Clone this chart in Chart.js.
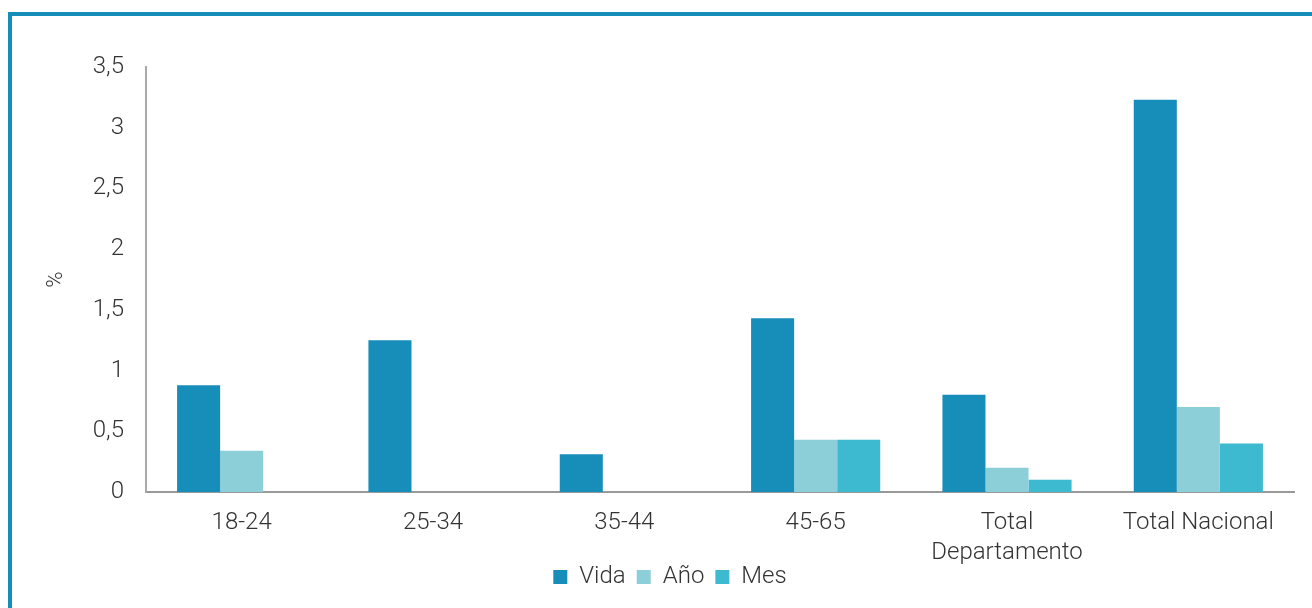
<!DOCTYPE html>
<html><head><meta charset="utf-8">
<script src="https://cdn.jsdelivr.net/npm/chart.js@4.4.1/dist/chart.umd.min.js"></script>
<style>
html,body{margin:0;padding:0;background:#fff;width:1312px;height:608px;overflow:hidden}
#frame{position:absolute;left:8px;top:12px;width:1304px;height:596px;border-top:4px solid #178dba;border-left:4px solid #178dba;box-sizing:border-box}
#wrap{position:absolute;left:12px;top:16px;width:1300px;height:592px}
</style></head>
<body>
<div id="frame"></div>
<div id="wrap"><canvas id="c" width="1300" height="592"></canvas></div>
<script>
const categories = ["18-24","25-34","35-44","45-65",["Total","Departamento"],"Total Nacional"];
const vida = [0.88,1.25,0.31,1.43,0.80,3.23];
const anio = [0.34,null,null,0.43,0.20,0.70];
const mes  = [null,null,null,0.43,0.10,0.40];
const yTicks = [0,0.5,1,1.5,2,2.5,3,3.5];
const font = {family:'Roboto', size:24, weight:'300', lineHeight:1.25};
const textColor = '#333';
const shiftLegend = {
  id:'shiftLegend',
  afterLayout(chart){ const l = chart.legend; if (l) { l.top -= 14; l.bottom -= 14; l.left += 17; l.right += 17; } }
};
new Chart(document.getElementById('c'),{
  type:'bar',
  data:{labels:categories,datasets:[
    {label:'Vida',data:vida,backgroundColor:'#178dba',categoryPercentage:0.675,barPercentage:1},
    {label:'Año',data:anio,backgroundColor:'#8ccfd8',categoryPercentage:0.675,barPercentage:1},
    {label:'Mes',data:mes,backgroundColor:'#3db9d0',categoryPercentage:0.675,barPercentage:1}
  ]},
  plugins:[shiftLegend],
  options:{
    responsive:false,animation:false,
    layout:{padding:{left:0,right:18,top:51,bottom:0}},
    plugins:{
      legend:{position:'bottom',maxHeight:40,labels:{boxWidth:14,boxHeight:14,padding:11,color:textColor,font:font}},
      tooltip:{enabled:false}
    },
    scales:{
      x:{
        grid:{display:false,drawTicks:false},
        border:{display:true,color:'#999',width:2},
        ticks:{color:textColor,font:font,padding:16,maxRotation:0,autoSkip:false},
        afterFit:(s)=>{s.height=76;}
      },
      y:{
        min:0,max:3.5,
        afterBuildTicks:(s)=>{s.ticks=yTicks.map(v=>({value:v}));},
        grid:{display:false,drawTicks:false},
        border:{display:true,color:'#aaa',width:2},
        ticks:{color:textColor,font:font,padding:22,callback:(v)=>String(v).replace('.',',')},
        title:{display:true,text:'%',color:textColor,font:{family:'Roboto',size:22,weight:'300'},padding:{top:31,bottom:0}},
        afterFit:(s)=>{s.width=134;}
      }
    }
  }
});
</script>
</body></html>
